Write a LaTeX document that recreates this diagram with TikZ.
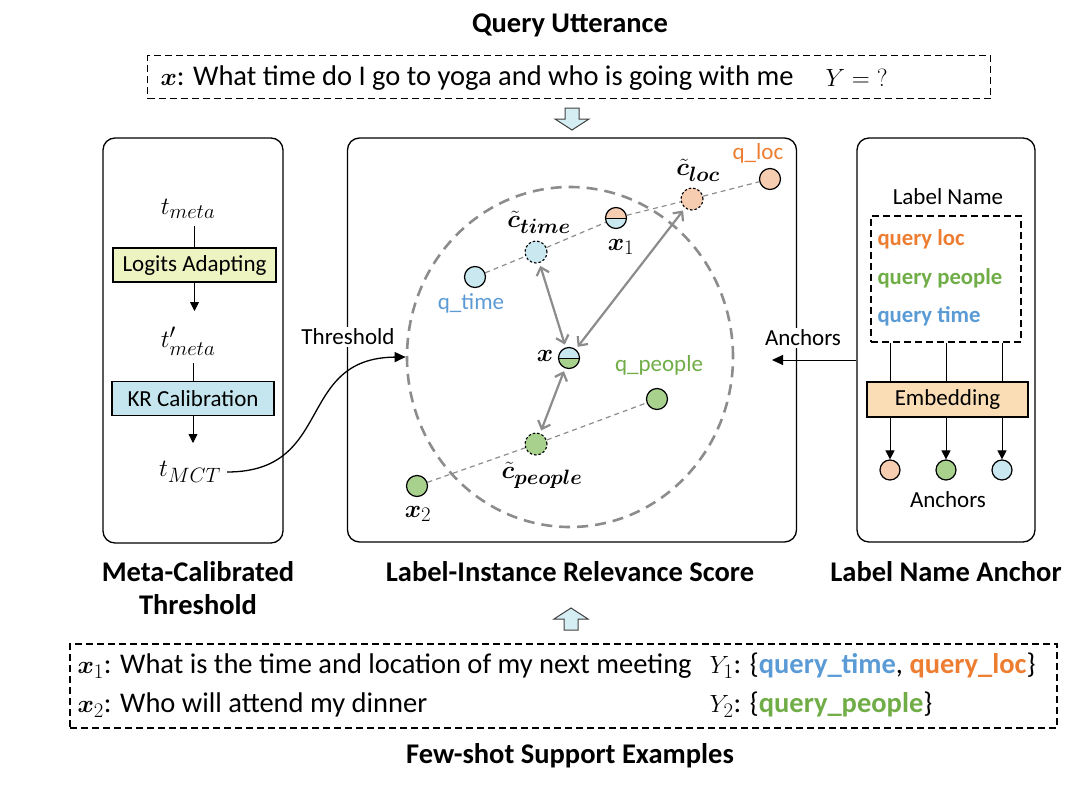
\documentclass[tikz,border=0pt]{standalone}
\usepackage{amsmath,bm}
\usepackage{fontspec}
\setmainfont{Carlito}
\usetikzlibrary{arrows.meta,backgrounds,shapes.geometric}
\definecolor{qorange}{HTML}{ED7D31}
\definecolor{qgreen}{HTML}{70AD47}
\definecolor{qblue}{HTML}{5B9BD5}
\definecolor{fpeach}{HTML}{F6CDB0}
\definecolor{fgreen}{HTML}{A9D18E}
\definecolor{fblue}{HTML}{C9E8F0}
\definecolor{fyellow}{HTML}{EEF3C2}
\definecolor{fcyan}{HTML}{C6E6EF}
\definecolor{femb}{HTML}{FBDDB5}
\definecolor{garr}{HTML}{8C8C8C}
\definecolor{barrow}{HTML}{D5EEF3}
\tikzset{
  panel/.style={draw, line width=1.3pt, rounded corners=12pt, inner sep=0pt},
  dashbox/.style={draw, line width=1.3pt, dash pattern=on 7pt off 4pt, inner sep=0pt},
  pbox/.style={draw, line width=1.2pt, inner sep=0pt, minimum height=34},
  pt/.style={circle, draw, line width=1.2pt, minimum size=21, inner sep=0pt},
  dotpt/.style={pt, fill=#1, path picture={\fill (path picture bounding box.center) circle[radius=1.6];}},
  cpt/.style={circle, draw, fill=#1, line width=1.1pt, dash pattern=on 2.5pt off 2pt, minimum size=22, inner sep=0pt},
  half/.style 2 args={pt, path picture={
     \fill[#1] (path picture bounding box.north west) rectangle (path picture bounding box.east);
     \fill[#2] (path picture bounding box.west) rectangle (path picture bounding box.south east);
     \draw[line width=1pt] (path picture bounding box.west) -- (path picture bounding box.east);}},
  guide/.style={garr, line width=1.2pt, dash pattern=on 5pt off 4pt},
  rel/.style={garr, line width=2.2pt, {Straight Barb[length=7pt,width=13pt]}-{Straight Barb[length=7pt,width=13pt]}, shorten <=3pt, shorten >=3pt},
  blk/.style={-{Triangle[length=9pt,width=9pt]}, line width=0.8pt},
  curvearr/.style={-{Triangle[length=11pt,width=10pt]}, line width=1.3pt},
  title/.style={font=\fontsize{28.5}{33}\selectfont\bfseries, align=center},
  lbl/.style={font=\fontsize{23}{26}\selectfont},
  lblb/.style={font=\fontsize{22.7}{26}\selectfont\bfseries},
  body/.style={font=\fontsize{28.5}{32}\selectfont},
  mlab/.style={font=\fontsize{28}{32}\selectfont},
  tlab/.style={font=\fontsize{32}{36}\selectfont},
  bigarrow/.style={draw=black!75, fill=barrow, line width=1pt, line join=miter}
}
\begin{document}
\begin{tikzpicture}[x=1pt,y=-1pt]
\useasboundingbox (0,0) rectangle (1080,790);

% ---------- top: query utterance ----------
\node[title] (qtitle) at (570,25) {Query Utterance};
\node[dashbox, minimum width=843, minimum height=43] (qbox) at (569,77) {};
\node[body, anchor=west] (qtext) at (157,78) {$\bm{x}$: What time do I go to yoga and who is going with me};
\node[body, anchor=west] (qY) at (822,78) {$Y = {?}$};
\draw[bigarrow] (565,108) -- (579,108) -- (579,119) -- (589,119) -- (572,130) -- (555,119) -- (565,119) -- cycle;

% ---------- left panel ----------
\node[panel, minimum width=180, minimum height=405] (lpanel) at (193,340.5) {};
\node[tlab] (tmeta) at (188,209) {$t_{meta}$};
\node[pbox, fill=fyellow, minimum width=163, lbl] (logits) at (194.5,265) {Logits Adapting};
\node[tlab] (tprime) at (188,341) {$t'_{meta}$};
\node[pbox, fill=fcyan, minimum width=162, lbl] (kr) at (193,398.5) {KR Calibration};
\node[tlab, inner sep=6pt] (tmct) at (190,472) {$t_{MCT}$};
\draw[line width=0.8pt] (logits.north |- 0,226) -- (logits.north);
\draw[blk] (logits.south) -- (logits.south |- 0,311);
\draw[line width=0.8pt] (kr.north |- 0,363) -- (kr.north);
\draw[blk] (kr.south) -- (kr.south |- 0,443);

% ---------- middle panel ----------
\node[panel, minimum width=449, minimum height=404] (mpanel) at (572,340) {};
\node[ellipse, draw=garr, line width=2.6pt, dash pattern=on 11pt off 7pt, minimum width=326, minimum height=340] (ring) at (570,357) {};

\node[dotpt=fpeach] (qloc) at (770,179) {};
\node[cpt=fpeach] (cloc) at (692,199) {};
\node[half={fpeach}{fblue}] (xone) at (616,218) {};
\node[cpt=fblue] (ctime) at (536,252) {};
\node[dotpt=fblue] (qtime) at (475,277) {};
\node[half={fblue}{fgreen}] (xq) at (569,358) {};
\node[dotpt=fgreen] (qpeople) at (657,399) {};
\node[cpt=fgreen] (cpeople) at (536,444) {};
\node[pt, fill=fgreen] (xtwo) at (417,486) {};

\begin{scope}[on background layer]
\draw[guide] (qtime) -- (ctime) -- (xone) -- (cloc) -- (qloc);
\draw[guide] (xtwo) -- (cpeople) -- (qpeople);
\end{scope}

\draw[rel] (ctime) -- (xq);
\draw[rel] (cloc) -- (xq);
\draw[rel] (cpeople) -- (xq);

\node[lbl, text=qorange] (qlocl) at (758,153) {q\_loc};
\node[mlab] (clocl) at (698,170) {$\tilde{\bm{c}}_{\bm{loc}}$};
\node[mlab] (xonel) at (621,247) {$\bm{x}_1$};
\node[mlab] (ctimel) at (539,222) {$\tilde{\bm{c}}_{\bm{time}}$};
\node[lbl, text=qblue] (qtimel) at (471,303) {q\_time};
\node[mlab] (xl) at (545,356) {$\bm{x}$};
\node[lbl, text=qgreen] (qpeoplel) at (659,365) {q\_people};
\node[mlab] (cpeoplel) at (542,475) {$\tilde{\bm{c}}_{\bm{people}}$};
\node[mlab] (xtwol) at (418,514) {$\bm{x}_2$};

% threshold link
\node[lbl, fill=white, inner sep=2pt] (thrl) at (348,337) {Threshold};
\draw[curvearr] (tmct.east) .. controls (335,472) and (295,358) .. (ring.west);

% ---------- right panel ----------
\node[panel, minimum width=178, minimum height=404] (rpanel) at (946,340) {};
\node[lbl] (lnl) at (948,197) {Label Name};
\node[dashbox, minimum width=150, minimum height=126] (lnbox) at (946,279) {};
\node[lblb, text=qorange, anchor=west] (nloc) at (874,239) {query loc};
\node[lblb, text=qgreen, anchor=west] (npeople) at (874,278) {query people};
\node[lblb, text=qblue, anchor=west] (ntime) at (874,316) {query time};
\node[pbox, fill=femb, minimum width=161, minimum height=35, lbl] (emb) at (947.5,399.5) {Embedding};
\node[dotpt=fpeach, minimum size=20] (aone) at (890,470) {};
\node[dotpt=fgreen, minimum size=20] (atwo) at (946,470) {};
\node[dotpt=fblue, minimum size=20] (athree) at (1002,470) {};
\foreach \a in {aone,atwo,athree}{
  \draw[line width=0.8pt] (lnbox.south -| \a) -- (emb.north -| \a);
  \draw[blk] (emb.south -| \a) -- (\a.north);
}
\node[lbl] (ancl) at (948,500) {Anchors};

% anchors link
\node[lbl, fill=white, inner sep=2pt] (anclink) at (803,338) {Anchors};
\coordinate (anctip) at (772,360);
\draw[curvearr, line width=1pt] (rpanel.west |- anctip) -- (anctip);

% ---------- titles ----------
\node[title] (ltitle) at (198,588) {Meta-Calibrated\\Threshold};
\node[title] (mtitle) at (570,572) {Label-Instance Relevance Score};
\node[title] (rtitle) at (946,572) {Label Name Anchor};

% ---------- bottom: support examples ----------
\draw[bigarrow] (564,630) -- (578,630) -- (578,619) -- (588,619) -- (571,608) -- (554,619) -- (564,619) -- cycle;
\node[dashbox, minimum width=987, minimum height=84] (sbox) at (563.5,686) {};
\node[body, anchor=west] (s1) at (74,666) {$\bm{x}_1$: What is the time and location of my next meeting};
\node[body, anchor=west] (y1) at (706,666) {$Y_1$: \{\textbf{\textcolor{qblue}{query\_time}}, \textbf{\textcolor{qorange}{query\_loc}}\}};
\node[body, anchor=west] (s2) at (74,705) {$\bm{x}_2$: Who will attend my dinner};
\node[body, anchor=west] (y2) at (706,705) {$Y_2$: \{\textbf{\textcolor{qgreen}{query\_people}}\}};
\node[title] (stitle) at (570,756) {Few-shot Support Examples};
\end{tikzpicture}
\end{document}
